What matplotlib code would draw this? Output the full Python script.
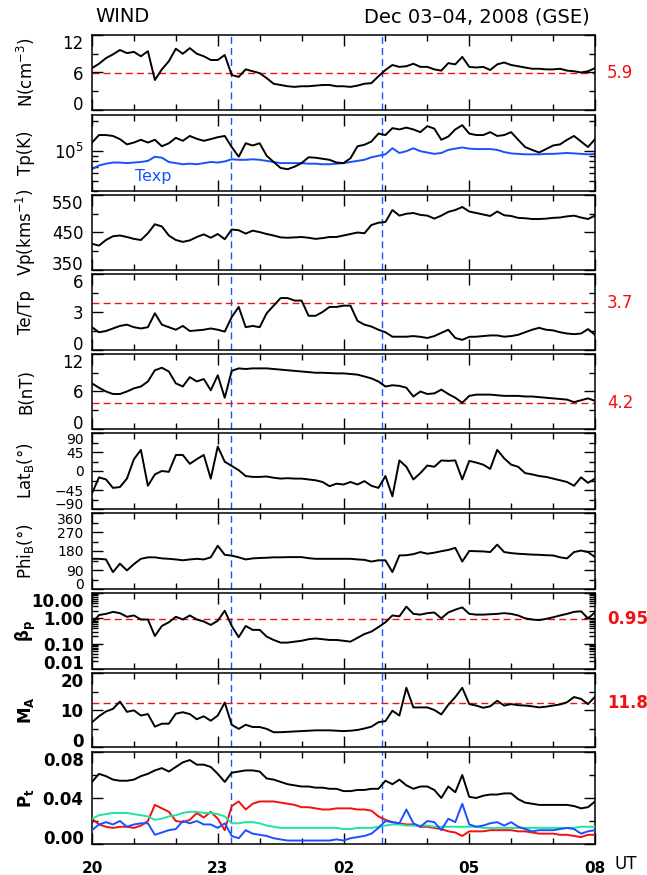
import numpy as np
import matplotlib
matplotlib.use('Agg')
import matplotlib.pyplot as plt
import matplotlib.transforms as mtransforms

# 10-minute samples, hours after 20:00 UT on Dec 03
hours = np.arange(73) / 6.0
shock_times = [3.32, 6.91]

n_vals = [6.7, 7.4, 8.3, 8.9, 9.6, 9.1, 9.3, 8.6, 9.4, 4.8, 6.5, 7.8, 9.8, 9.0, 9.9, 9.0, 8.6, 8.0, 8.0, 8.8,
          5.6, 5.3, 6.5, 6.2, 5.9, 5.1, 4.2, 4.0, 3.8, 3.7, 3.8, 3.8, 3.9, 4.0, 4.0, 3.8, 3.8, 3.7, 3.9, 4.2,
          4.3, 5.4, 6.4, 7.2, 6.9, 7.0, 7.4, 6.9, 6.9, 6.5, 6.3, 7.5, 7.3, 8.5, 6.9, 6.8, 6.9, 6.4, 7.3, 7.6,
          7.2, 7.0, 6.8, 6.6, 6.6, 6.5, 6.5, 6.6, 6.3, 6.2, 6.0, 6.2, 6.7]
tp_vals = [1.22, 1.45, 1.45, 1.42, 1.32, 1.17, 1.22, 1.30, 1.22, 1.30, 1.12, 1.20, 1.36, 1.27, 1.42, 1.33, 1.27,
           1.32, 1.38, 1.42, 1.10, 0.88, 1.20, 1.14, 1.20, 0.90, 0.78, 0.68, 0.66, 0.70, 0.76, 0.87, 0.86, 0.84,
           0.82, 0.77, 0.76, 0.85, 1.12, 1.16, 1.25, 1.50, 1.45, 1.70, 1.65, 1.72, 1.65, 1.55, 1.78, 1.68, 1.30,
           1.40, 1.65, 1.82, 1.50, 1.45, 1.45, 1.55, 1.42, 1.45, 1.55, 1.30, 1.10, 1.03, 0.97, 1.05, 1.14, 1.17,
           1.30, 1.42, 1.25, 1.10, 1.32]
texp_vals = [0.66, 0.72, 0.75, 0.77, 0.77, 0.76, 0.77, 0.78, 0.80, 0.88, 0.86, 0.78, 0.76, 0.74, 0.75, 0.74, 0.76,
             0.78, 0.77, 0.79, 0.83, 0.82, 0.82, 0.83, 0.82, 0.80, 0.78, 0.76, 0.76, 0.76, 0.76, 0.75, 0.75, 0.74,
             0.74, 0.75, 0.76, 0.78, 0.80, 0.82, 0.87, 0.90, 0.93, 1.07, 0.96, 1.00, 1.07, 1.00, 0.97, 0.94, 0.96,
             1.03, 1.06, 1.09, 1.06, 1.05, 1.05, 1.05, 1.03, 0.98, 0.95, 0.94, 0.93, 0.93, 0.93, 0.94, 0.94, 0.95,
             0.96, 0.95, 0.94, 0.93, 0.94]
vp_vals = [420, 415, 430, 440, 442, 438, 433, 430, 448, 472, 466, 442, 430, 425, 429, 438, 445, 436, 446, 432,
           458, 456, 447, 455, 451, 446, 442, 437, 436, 437, 438, 436, 433, 435, 438, 438, 442, 446, 450, 448,
           470, 476, 478, 510, 495, 500, 502, 497, 495, 487, 495, 505, 510, 518, 506, 502, 498, 494, 506, 496,
           494, 489, 488, 486, 486, 487, 489, 490, 493, 495, 490, 486, 495]
tetp_vals = [1.8, 1.4, 1.5, 1.7, 1.9, 2.0, 1.8, 1.7, 1.8, 2.9, 2.0, 1.8, 1.6, 1.9, 1.5, 1.55, 1.6, 1.7, 1.6, 1.45,
             2.6, 3.4, 1.8, 1.9, 1.8, 2.9, 3.5, 4.1, 4.1, 3.9, 3.9, 2.7, 2.7, 3.0, 3.4, 3.4, 3.5, 3.5, 2.3, 2.0,
             1.85, 1.6, 1.4, 1.05, 1.05, 1.05, 1.1, 1.04, 0.95, 1.1, 1.35, 1.6, 0.95, 0.8, 1.04, 1.05, 1.1, 1.15,
             1.15, 1.05, 1.1, 1.2, 1.4, 1.6, 1.75, 1.6, 1.55, 1.4, 1.3, 1.25, 1.3, 1.65, 1.2]
b_vals = [7.3, 6.6, 6.0, 5.6, 5.6, 6.0, 6.5, 6.8, 7.6, 9.4, 9.8, 9.2, 7.3, 6.8, 8.3, 7.6, 8.0, 6.2, 8.6, 5.0,
          9.3, 9.7, 9.6, 9.7, 9.7, 9.7, 9.6, 9.5, 9.4, 9.3, 9.2, 9.1, 9.0, 9.0, 8.95, 8.9, 8.9, 8.8, 8.7, 8.4,
          8.1, 7.6, 6.8, 7.0, 6.9, 6.6, 5.2, 6.0, 5.6, 5.7, 6.3, 5.6, 5.0, 4.2, 5.3, 5.5, 5.5, 5.5, 5.4, 5.3,
          5.3, 5.3, 5.2, 5.2, 5.1, 5.0, 4.9, 4.8, 4.7, 4.3, 4.6, 4.9, 4.5]
lat_vals = [-53, -15, -20, -40, -38, -18, 28, 50, -35, -8, 0, -2, 38, 38, 17, 28, 38, -18, 58, 22,
            12, 2, -12, -14, -14, -13, -16, -18, -17, -18, -18, -20, -22, -26, -36, -30, -32, -26, -32, -24,
            -35, -40, -12, -60, 25, 10, -20, -5, 13, 10, 25, 24, 25, -20, 24, 20, 15, 5, 50, 30,
            15, 10, -5, -8, -12, -14, -18, -22, -26, -35, -15, -28, -18]
phi_vals = [143, 143, 140, 80, 120, 88, 118, 143, 150, 150, 145, 143, 140, 136, 140, 143, 140, 150, 205, 162,
            158, 150, 140, 145, 147, 148, 150, 150, 151, 151, 151, 146, 143, 143, 143, 143, 143, 143, 140, 138,
            130, 136, 136, 80, 159, 160, 165, 175, 167, 172, 179, 185, 195, 130, 180, 179, 178, 175, 210, 175,
            170, 167, 165, 163, 162, 160, 159, 150, 145, 175, 182, 175, 151]
beta_vals = [0.64, 1.35, 1.5, 1.8, 1.6, 1.15, 1.3, 0.9, 0.9, 0.2, 0.5, 0.7, 1.15, 0.9, 1.3, 0.9, 0.75, 0.55, 0.8, 2.0,
             0.5, 0.18, 0.5, 0.35, 0.35, 0.19, 0.14, 0.11, 0.11, 0.12, 0.13, 0.15, 0.16, 0.15, 0.14, 0.14, 0.13,
             0.12, 0.17, 0.24, 0.3, 0.45, 0.7, 1.3, 1.2, 2.9, 1.5, 1.4, 1.6, 1.7, 1.0, 1.7, 2.2, 2.7, 1.5, 1.4,
             1.4, 1.45, 1.5, 1.6, 1.5, 1.3, 1.0, 0.9, 0.85, 0.95, 1.1, 1.3, 1.5, 1.8, 1.9, 1.0, 1.7]
ma_vals = [6.7, 8.3, 9.6, 10.3, 12.3, 9.5, 9.9, 8.5, 8.9, 5.5, 6.3, 6.3, 9.0, 9.4, 8.9, 7.5, 8.3, 7.1, 8.5, 12.0,
           6.0, 4.9, 6.0, 5.4, 5.4, 4.9, 4.0, 4.0, 4.1, 4.2, 4.3, 4.4, 4.5, 4.5, 4.5, 4.4, 4.3, 4.4, 4.6, 5.0,
           5.5, 6.7, 7.0, 9.8, 8.5, 16.0, 10.7, 10.7, 10.7, 10.0, 8.8, 11.4, 13.5, 16.0, 11.6, 11.2, 10.6, 11.0,
           12.5, 11.2, 11.6, 11.3, 11.2, 11.0, 10.7, 10.9, 11.2, 11.5, 12.1, 13.5, 13.0, 11.6, 13.6]
pt_total = [0.054, 0.061, 0.059, 0.056, 0.055, 0.055, 0.056, 0.059, 0.061, 0.064, 0.066, 0.063, 0.067, 0.071,
            0.073, 0.069, 0.069, 0.067, 0.061, 0.054, 0.062, 0.063, 0.064, 0.064, 0.063, 0.057, 0.056, 0.054,
            0.052, 0.051, 0.050, 0.050, 0.049, 0.049, 0.048, 0.048, 0.046, 0.046, 0.047, 0.047, 0.048, 0.048,
            0.055, 0.052, 0.056, 0.051, 0.048, 0.050, 0.050, 0.047, 0.040, 0.050, 0.045, 0.060, 0.041, 0.040,
            0.042, 0.043, 0.043, 0.044, 0.044, 0.039, 0.036, 0.035, 0.034, 0.034, 0.034, 0.034, 0.034, 0.033,
            0.031, 0.032, 0.037]
pt_red = [0.022, 0.017, 0.015, 0.014, 0.015, 0.015, 0.014, 0.016, 0.020, 0.034, 0.031, 0.028, 0.020, 0.019,
          0.021, 0.027, 0.023, 0.028, 0.022, 0.012, 0.033, 0.037, 0.030, 0.035, 0.037, 0.037, 0.037, 0.036,
          0.035, 0.034, 0.032, 0.032, 0.031, 0.030, 0.030, 0.031, 0.031, 0.031, 0.030, 0.030, 0.029, 0.024,
          0.021, 0.019, 0.018, 0.017, 0.017, 0.015, 0.015, 0.014, 0.013, 0.011, 0.010, 0.007, 0.011, 0.011,
          0.011, 0.012, 0.012, 0.012, 0.012, 0.011, 0.011, 0.010, 0.009, 0.009, 0.009, 0.008, 0.008, 0.007,
          0.006, 0.008, 0.008]
pt_green = [0.022, 0.025, 0.026, 0.027, 0.027, 0.027, 0.026, 0.025, 0.024, 0.021, 0.022, 0.024, 0.025, 0.027,
            0.028, 0.028, 0.027, 0.027, 0.026, 0.024, 0.018, 0.018, 0.019, 0.019, 0.018, 0.016, 0.015, 0.014,
            0.014, 0.014, 0.014, 0.014, 0.014, 0.014, 0.014, 0.014, 0.013, 0.013, 0.014, 0.014, 0.014, 0.015,
            0.016, 0.017, 0.017, 0.016, 0.016, 0.016, 0.016, 0.015, 0.015, 0.015, 0.015, 0.015, 0.015, 0.015,
            0.014, 0.014, 0.014, 0.014, 0.014, 0.014, 0.014, 0.014, 0.014, 0.014, 0.014, 0.014, 0.014, 0.014,
            0.015, 0.015, 0.015]
pt_blue = [0.012, 0.017, 0.019, 0.017, 0.020, 0.015, 0.017, 0.018, 0.018, 0.008, 0.010, 0.012, 0.013, 0.020,
           0.018, 0.020, 0.017, 0.017, 0.014, 0.018, 0.007, 0.005, 0.012, 0.009, 0.008, 0.007, 0.005, 0.004,
           0.003, 0.003, 0.003, 0.003, 0.003, 0.003, 0.003, 0.004, 0.003, 0.005, 0.006, 0.007, 0.009, 0.014,
           0.020, 0.019, 0.018, 0.030, 0.018, 0.015, 0.020, 0.019, 0.012, 0.022, 0.019, 0.035, 0.017, 0.015,
           0.016, 0.018, 0.019, 0.016, 0.019, 0.015, 0.013, 0.011, 0.012, 0.012, 0.012, 0.013, 0.014, 0.013,
           0.009, 0.011, 0.012]

x_ticks = [0, 3, 6, 9, 12]
x_labels = ['20', '23', '02', '05', '08']

BLUE = '#1a50ff'
RED = '#f01010'
GREEN = '#1ee6a0'

W, H = 647.0, 875.0
fig = plt.figure(figsize=(W / 100, H / 100), dpi=100)

panels = [(35, 110), (115, 191), (195, 270), (274, 350), (354, 429),
          (433, 509), (513, 589), (593, 669), (673, 747), (752, 844)]
axes = []
for top, bot in panels:
    ax = fig.add_axes([92 / W, 1 - bot / H, 503 / W, (bot - top) / H])
    ax.set_xlim(0, 12)
    ax.set_xticks(x_ticks)
    ax.set_xticks(range(13), minor=True)
    ax.tick_params(which='both', direction='in', top=True, right=True, width=1)
    ax.tick_params(which='major', length=8, pad=6, labelsize=12)
    ax.tick_params(which='minor', length=4.5)
    ax.tick_params(axis='x', labelbottom=False)
    for s in ax.spines.values():
        s.set_linewidth(1.1)
    for t in shock_times:
        ax.axvline(t, color=BLUE, lw=1, ls=(0, (5, 3)), zorder=1)
    axes.append(ax)


def yaxis(ax, lo, hi, ticks, labels, minor, bold=False, size=12):
    ax.set_ylim(lo, hi)
    ax.set_yticks(ticks)
    txts = ax.set_yticklabels(labels, fontweight='bold' if bold else 'normal', fontsize=size)
    # keep the end labels inside the panel, as the original plot does
    for v, t in zip(ticks, txts):
        if v >= hi:
            t.set_va('top')
        elif v <= lo:
            t.set_va('baseline')
    ax.set_yticks(minor, minor=True)
    ax.set_yticklabels([], minor=True)


def threshold(ax, v, text, bold=False):
    ax.axhline(v, color=RED, lw=1, ls=(0, (5, 3)), zorder=1)
    tr = mtransforms.blended_transform_factory(ax.transAxes, ax.transData)
    ax.text(1.024, v, text, transform=tr, color=RED, fontsize=12, va='center',
            fontweight='bold' if bold else 'normal')


lw = 1.4
a = axes
a[0].plot(hours, n_vals, color='k', lw=lw, zorder=3)
yaxis(a[0], 0, 12, [0, 6, 12], ['0', '6', '12'], [3, 9])
threshold(a[0], 5.9, '5.9')

a[1].set_yscale('log')
a[1].plot(hours, np.array(tp_vals) * 1e5, color='k', lw=lw, zorder=3)
a[1].plot(hours, np.array(texp_vals) * 1e5, color=BLUE, lw=lw, zorder=2)
yaxis(a[1], 4e4, 2.3e5, [1e5], ['10$^5$'], [4e4, 5e4, 6e4, 7e4, 8e4, 9e4, 2e5])

a[2].plot(hours, vp_vals, color='k', lw=lw, zorder=3)
yaxis(a[2], 350, 550, [350, 450, 550], ['350', '450', '550'], [400, 500])

a[3].plot(hours, tetp_vals, color='k', lw=lw, zorder=3)
yaxis(a[3], 0, 6, [0, 3, 6], ['0', '3', '6'], [1.5, 4.5])
threshold(a[3], 3.7, '3.7')

a[4].plot(hours, b_vals, color='k', lw=lw, zorder=3)
yaxis(a[4], 0, 12, [0, 6, 12], ['0', '6', '12'], [3, 9])
threshold(a[4], 4.2, '4.2')

a[5].plot(hours, lat_vals, color='k', lw=lw, zorder=3)
yaxis(a[5], -90, 90, [-90, -45, 0, 45, 90], ['\u221290', '\u221245', '0', '45', '90'],
      [-67.5, -22.5, 22.5, 67.5], size=10)

a[6].plot(hours, phi_vals, color='k', lw=lw, zorder=3)
yaxis(a[6], 0, 360, [0, 90, 180, 270, 360], ['0', '90', '180', '270', '360'], [45, 135, 225, 315], size=10)

a[7].set_yscale('log')
a[7].plot(hours, beta_vals, color='k', lw=lw, zorder=3)
beta_minor = [m * d for d in [0.01, 0.1, 1] for m in range(2, 10)]
yaxis(a[7], 0.01, 10, [0.01, 0.1, 1, 10], ['0.01', '0.10', '1.00', '10.00'], beta_minor, bold=True)
threshold(a[7], 0.95, '0.95', bold=True)

a[8].plot(hours, ma_vals, color='k', lw=lw, zorder=3)
yaxis(a[8], 0, 20, [0, 10, 20], ['0', '10', '20'], [5, 15], bold=True)
threshold(a[8], 11.8, '11.8', bold=True)

a[9].plot(hours, pt_total, color='k', lw=lw, zorder=3)
a[9].plot(hours, pt_red, color=RED, lw=lw, zorder=3)
a[9].plot(hours, pt_green, color=GREEN, lw=lw, zorder=3)
a[9].plot(hours, pt_blue, color=BLUE, lw=lw, zorder=3)
yaxis(a[9], 0, 0.08, [0, 0.04, 0.08], ['0.00', '0.04', '0.08'], [0.02, 0.06], bold=True)
a[9].tick_params(axis='x', labelbottom=True, pad=12, labelsize=11)
a[9].set_xticklabels(x_labels, fontweight='bold')

# y-axis titles
ylabels = ['N(cm$^{-3}$)', 'Tp(K)', 'Vp(kms$^{-1}$)', 'Te/Tp', 'B(nT)',
           'Lat$_\\mathrm{B}$(\u00b0)', 'Phi$_\\mathrm{B}$(\u00b0)',
           '$\\mathbf{\\beta_p}$', 'M$_\\mathbf{A}$', 'P$_\\mathbf{t}$']
for i, (lab, (top, bot)) in enumerate(zip(ylabels, panels)):
    fig.text(26 / W, 1 - (top + bot) / 2 / H, lab, rotation=90, ha='center', va='center',
             fontsize=12, fontweight='bold' if i >= 7 else 'normal')

fig.text(135 / W, 1 - 176 / H, 'Texp', color=BLUE, fontsize=11.5, va='center')
fig.text(95 / W, 1 - 17 / H, 'WIND', fontsize=14, va='center')
fig.text(590 / W, 1 - 17 / H, 'Dec 03\u201304, 2008 (GSE)', fontsize=14, va='center', ha='right')
fig.text(615 / W, 1 - 864 / H, 'UT', fontsize=12, va='center')

fig.savefig('out.png', dpi=100)
